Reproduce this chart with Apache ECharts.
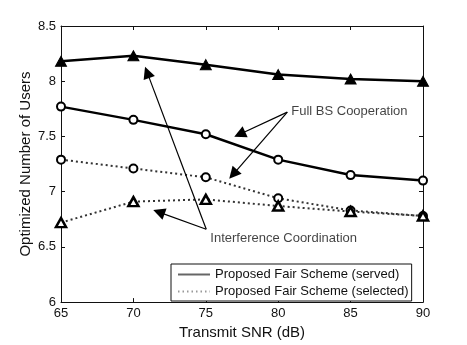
<!DOCTYPE html>
<html>
<head>
<meta charset="utf-8">
<script src="https://cdn.jsdelivr.net/npm/echarts@6/dist/echarts.min.js"></script>
<style>
html,body{margin:0;padding:0;background:#fff;}
#chart{width:467px;height:345px;}
</style>
</head>
<body>
<div id="chart"></div>
<script>
// ---- Data ----
var snr = [65, 70, 75, 80, 85, 90];
var servedFullBS   = [8.18, 8.23, 8.15, 8.06, 8.02, 8.00]; // triangles, solid
var servedIC       = [7.77, 7.65, 7.52, 7.29, 7.15, 7.10]; // circles, solid
var selectedFullBS = [7.29, 7.21, 7.13, 6.94, 6.83, 6.78]; // circles, dotted
var selectedIC     = [6.72, 6.91, 6.93, 6.87, 6.82, 6.78]; // triangles, dotted
var xTicks = [65, 70, 75, 80, 85, 90];
var yTicks = [6, 6.5, 7, 7.5, 8, 8.5];
var legendNames = ['Proposed Fair Scheme (served)', 'Proposed Fair Scheme (selected)'];
// annotation arrows in data coordinates: [from, to]
var arrowsIC  = [[[75.03, 6.66], [70.95, 8.08]], [[75.03, 6.66], [71.76, 6.815]]];
var arrowsFBC = [[[80.63, 7.72], [77.34, 7.52]], [[80.63, 7.72], [76.89, 7.157]]];
var annotText = [
  {name: 'Full BS Cooperation', value: [80.9, 7.73]},
  {name: 'Interference Coordination', value: [75.31, 6.574]}
];

function pairs(xs, ys){ return xs.map(function(x,i){ return [x, ys[i]]; }); }

var FONT = 'Liberation Sans, Arial, Helvetica, sans-serif';
var chart = echarts.init(document.getElementById('chart'), null, {renderer:'canvas'});

var axisLine = {show:true, lineStyle:{color:'#111', width:1}};
var tick = {show:true, inside:true, length:4, lineStyle:{color:'#111', width:1}};

var option = {
  animation: false,
  backgroundColor: '#fff',
  textStyle: {fontFamily: FONT},
  grid: {left:61, right:44, top:26, bottom:39, containLabel:false},
  xAxis: [{
    type:'value', min:65, max:90, interval:5,
    axisLine: axisLine, axisTick: tick, splitLine:{show:false},
    axisLabel:{color:'#111', fontSize:13, fontFamily:FONT, margin:5},
    name:'Transmit SNR (dB)', nameLocation:'middle', nameGap:22,
    nameTextStyle:{color:'#111', fontSize:15, fontFamily:FONT}
  },{
    type:'value', position:'top', min:65, max:90, interval:5,
    axisLine: axisLine, axisTick: tick, axisLabel:{show:false}, splitLine:{show:false}
  }],
  yAxis: [{
    type:'value', min:6, max:8.5, interval:0.5,
    axisLine: axisLine, axisTick: tick, splitLine:{show:false},
    axisLabel:{color:'#111', fontSize:13, fontFamily:FONT, margin:5},
    name:'Optimized Number of Users', nameLocation:'middle', nameGap:28,
    nameMoveOverlap:false,
    nameTextStyle:{color:'#111', fontSize:15, fontFamily:FONT}
  },{
    type:'value', position:'right', min:6, max:8.5, interval:0.5,
    axisLine: axisLine, axisTick: tick, axisLabel:{show:false}, splitLine:{show:false}
  }],
  legend: {
    show:true, orient:'vertical', left:171, top:264,
    data: legendNames,
    itemWidth:32, itemHeight:12, itemGap:4,
    padding:[4,3,3,6],
    itemStyle:{opacity:0},
    borderColor:'#111', borderWidth:1, backgroundColor:'#fff',
    textStyle:{color:'#111', fontSize:13, fontFamily:FONT}
  },
  series: [
    {
      name:'servedFBS', type:'line', data: pairs(snr, servedFullBS),
      symbol:'triangle', symbolSize:[11,10],
      lineStyle:{color:'#000', width:2.5},
      itemStyle:{color:'#000', borderColor:'#000', borderWidth:1},
      z:5
    },
    {
      name:'servedIC', type:'line', data: pairs(snr, servedIC),
      symbol:'circle', symbolSize:8,
      lineStyle:{color:'#000', width:2.5},
      itemStyle:{color:'#fff', borderColor:'#000', borderWidth:2},
      z:5
    },
    {
      name:'selectedFBS', type:'line', data: pairs(snr, selectedFullBS),
      symbol:'circle', symbolSize:8,
      lineStyle:{color:'#333', width:2, type:[2,3]},
      itemStyle:{color:'#fff', borderColor:'#000', borderWidth:2},
      z:4
    },
    {
      name:'selectedIC', type:'line', data: pairs(snr, selectedIC),
      symbol:'triangle', symbolSize:[10,9],
      lineStyle:{color:'#333', width:2, type:[2,3]},
      itemStyle:{color:'#fff', borderColor:'#000', borderWidth:2.5},
      z:4
    },
    {
      name: legendNames[0], type:'line', data: [], symbol:'none',
      lineStyle:{color:'#666', width:1.5}, itemStyle:{color:'#666', opacity:0}
    },
    {
      name: legendNames[1], type:'line', data: [], symbol:'none',
      lineStyle:{color:'#999', width:1.2, type:[1.5,3]}, itemStyle:{color:'#999', opacity:0}
    },
    {
      name:'arrows', type:'lines', coordinateSystem:'cartesian2d',
      data: arrowsIC.concat(arrowsFBC).map(function(a){ return {coords:a}; }),
      symbol:['none','triangle'], symbolSize:[0,12],
      lineStyle:{color:'#000', width:1.2, opacity:1, curveness:0},
      itemStyle:{color:'#000'},
      z:6, silent:true
    },
    {
      name:'annot', type:'scatter', data: annotText, symbolSize:0,
      label:{show:true, position:'right', distance:0, formatter:'{b}',
             color:'#111', fontSize:13, fontFamily:FONT},
      silent:true, z:7
    }
  ]
};
chart.setOption(option);
</script>
</body>
</html>
